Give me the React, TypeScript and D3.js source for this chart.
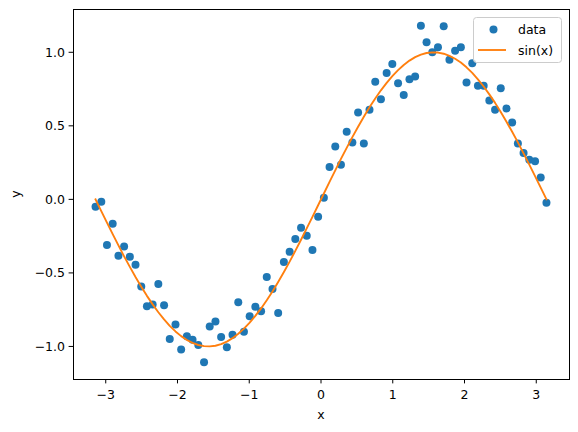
import * as d3 from "d3";

// x positions of the samples (80 evenly spaced points from -pi to pi)
const xs = [
  -3.142, -3.062, -2.983, -2.903, -2.823, -2.744, -2.664, -2.585, -2.505, -2.426,
  -2.346, -2.267, -2.187, -2.108, -2.028, -1.949, -1.869, -1.790, -1.710, -1.630,
  -1.551, -1.471, -1.392, -1.312, -1.233, -1.153, -1.074, -0.994, -0.915, -0.835,
  -0.756, -0.676, -0.597, -0.517, -0.437, -0.358, -0.278, -0.199, -0.119, -0.040,
  0.040, 0.119, 0.199, 0.278, 0.358, 0.437, 0.517, 0.597, 0.676, 0.756,
  0.835, 0.915, 0.994, 1.074, 1.153, 1.233, 1.312, 1.392, 1.471, 1.551,
  1.630, 1.710, 1.790, 1.869, 1.949, 2.028, 2.108, 2.187, 2.267, 2.346,
  2.426, 2.505, 2.585, 2.664, 2.744, 2.823, 2.903, 2.983, 3.062, 3.142,
];

// noisy measurements
const dataY = [
  -0.05, -0.016, -0.31, -0.166, -0.384, -0.32, -0.39, -0.445, -0.593, -0.727,
  -0.714, -0.575, -0.72, -0.95, -0.85, -1.02, -0.93, -0.955, -0.99, -1.107,
  -0.864, -0.83, -0.936, -1.005, -0.92, -0.70, -0.90, -0.795, -0.73, -0.76,
  -0.527, -0.61, -0.773, -0.425, -0.357, -0.27, -0.193, -0.248, -0.345, -0.118,
  0.011, 0.22, 0.36, 0.236, 0.46, 0.386, 0.59, 0.38, 0.61, 0.80,
  0.68, 0.86, 0.92, 0.79, 0.71, 0.816, 0.836, 1.18, 1.068, 1.0,
  1.034, 1.177, 0.95, 1.011, 1.034, 0.795, 0.925, 0.773, 0.773, 0.673,
  0.61, 0.755, 0.618, 0.523, 0.38, 0.316, 0.27, 0.26, 0.148, -0.023,
];

// reference curve sin(x) at the same positions
const sinY = [
  0.0, -0.0795, -0.1584, -0.2363, -0.3128, -0.3873, -0.4593, -0.5283, -0.594, -0.6561,
  -0.714, -0.7675, -0.8162, -0.8597, -0.8978, -0.93, -0.9561, -0.9761, -0.9902, -0.9982,
  -0.9998, -0.9951, -0.9841, -0.9669, -0.9435, -0.914, -0.8786, -0.8384, -0.7925, -0.7414,
  -0.6859, -0.6257, -0.5617, -0.4942, -0.4236, -0.3503, -0.2748, -0.1975, -0.119, -0.0398,
  0.0398, 0.119, 0.1975, 0.2748, 0.3503, 0.4236, 0.4942, 0.5617, 0.6257, 0.6859,
  0.7414, 0.7925, 0.8384, 0.8786, 0.914, 0.9435, 0.9669, 0.9841, 0.9951, 0.9998,
  0.9982, 0.9902, 0.9761, 0.9561, 0.93, 0.8978, 0.8597, 0.8162, 0.7675, 0.714,
  0.6561, 0.594, 0.5283, 0.4593, 0.3873, 0.3128, 0.2363, 0.1584, 0.0795, 0.0,
];

const xTicks = [-3, -2, -1, 0, 1, 2, 3];
const yTicks = [-1.0, -0.5, 0.0, 0.5, 1.0];

const W = 578;
const H = 432;
const margin = { left: 73, top: 9, right: 569, bottom: 379 };
const BLUE = "#1f77b4";
const ORANGE = "#ff7f0e";
const FONT = "DejaVu Sans, sans-serif";
const MARKER_R = 4;

const fmt = (v: number, digits: number) => v.toFixed(digits).replace("-", "\u2212");

export default function App() {
  const [xMin, xMax] = d3.extent(xs) as [number, number];
  const xPad = (xMax - xMin) * 0.05;
  const allY = dataY.concat(sinY);
  const [yMin, yMax] = d3.extent(allY) as [number, number];
  const yPad = (yMax - yMin) * 0.05;

  const x = d3.scaleLinear().domain([xMin - xPad, xMax + xPad]).range([margin.left, margin.right]);
  const y = d3.scaleLinear().domain([yMin - yPad, yMax + yPad]).range([margin.bottom, margin.top]);

  const line = d3
    .line<number>()
    .x((_d, i) => x(xs[i]))
    .y((d) => y(d));

  const legX = 473.5;
  const legY = 17.5;

  return (
    <svg width={W} height={H} style={{ position: "absolute", left: 0, top: 0 }} fontFamily={FONT}>
      <rect x={0} y={0} width={W} height={H} fill="#fff" />

      {/* data points */}
      <g>
        {dataY.map((v, i) => (
          <circle key={i} cx={x(xs[i])} cy={y(v)} r={MARKER_R} fill={BLUE} />
        ))}
      </g>

      {/* sin curve */}
      <path d={line(sinY) ?? ""} fill="none" stroke={ORANGE} strokeWidth={1.875} strokeLinejoin="round" strokeLinecap="square" />

      {/* frame */}
      <rect
        x={margin.left}
        y={margin.top}
        width={margin.right - margin.left}
        height={margin.bottom - margin.top}
        fill="none"
        stroke="#000"
        strokeWidth={1}
        shapeRendering="crispEdges"
      />

      {/* x ticks */}
      <g fontSize={12.5} fill="#000">
        {xTicks.map((t) => (
          <g key={t} transform={`translate(${x(t)},${margin.bottom})`}>
            <line y1={0} y2={4.4} stroke="#000" strokeWidth={1} />
            <text y={19.5} textAnchor="middle">
              {fmt(t, 0)}
            </text>
          </g>
        ))}
      </g>

      {/* y ticks */}
      <g fontSize={12.5} fill="#000">
        {yTicks.map((t) => (
          <g key={t} transform={`translate(${margin.left},${y(t)})`}>
            <line x1={0} x2={-4.4} stroke="#000" strokeWidth={1} />
            <text x={-8} dy="0.36em" textAnchor="end">
              {fmt(t, 1)}
            </text>
          </g>
        ))}
      </g>

      {/* axis labels */}
      <text x={(margin.left + margin.right) / 2} y={419} textAnchor="middle" fontSize={12.5}>
        x
      </text>
      <text
        transform={`translate(20,${(margin.top + margin.bottom) / 2}) rotate(-90)`}
        textAnchor="middle"
        fontSize={12.5}
      >
        y
      </text>

      {/* legend */}
      <g>
        <rect x={legX} y={legY} width={88} height={45} rx={3} fill="#fff" fillOpacity={0.8} stroke="#ccc" strokeWidth={1} />
        <circle cx={493.5} cy={29.5} r={MARKER_R} fill={BLUE} />
        <text x={518} y={29.5} dy="0.36em" fontSize={12.5}>
          data
        </text>
        <line x1={478} x2={506} y1={50} y2={50} stroke={ORANGE} strokeWidth={1.875} />
        <text x={518} y={50} dy="0.36em" fontSize={12.5}>
          sin(x)
        </text>
      </g>
    </svg>
  );
}
